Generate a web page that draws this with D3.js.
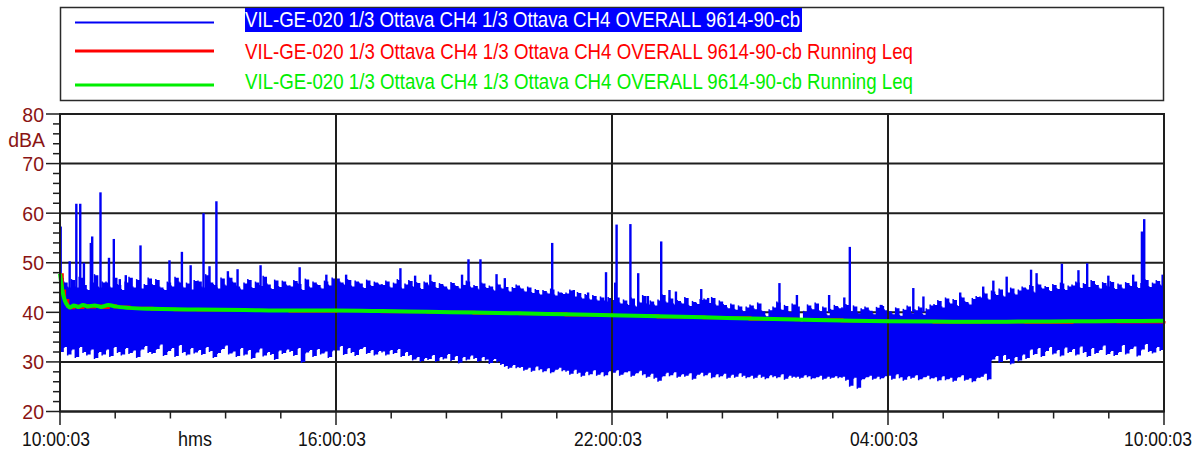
<!DOCTYPE html>
<html>
<head>
<meta charset="utf-8">
<script src="https://cdn.jsdelivr.net/npm/d3@7/dist/d3.min.js"></script>
<style>
  html, body { margin: 0; padding: 0; background: #ffffff; }
  svg { display: block; font-family: "Liberation Sans", Arial, Helvetica, sans-serif; }
</style>
</head>
<body>
<svg id="chart" width="1201" height="453"></svg>
<script>
// ---- Data -------------------------------------------------------------
// Time axis in hours since 10:00:03
const xTickHours = [0, 6, 12, 18, 24];
const xTickLabels = ["10:00:03", "16:00:03", "22:00:03", "04:00:03", "10:00:03"];
const yTicks = [20, 30, 40, 50, 60, 70, 80];

const seriesNames = [
  "VIL-GE-020 1/3 Ottava CH4 1/3 Ottava CH4 OVERALL 9614-90-cb",
  "VIL-GE-020 1/3 Ottava CH4 1/3 Ottava CH4 OVERALL 9614-90-cb Running Leq",
  "VIL-GE-020 1/3 Ottava CH4 1/3 Ottava CH4 OVERALL 9614-90-cb Running Leq"
];

// Level envelope of the measured signal, 5-minute bins (dBA): top and bottom of the trace
const binMinutes = 5;
const levelMax = [
  47, 46, 45, 46.5, 45, 47, 45.5, 44.5, 46, 47.5, 45, 46,
  46, 45, 47, 45.5, 44.5, 46, 47, 45, 46.5, 44.8, 45.5, 46.8,
  45.5, 46.5, 45, 44.5, 46, 45.2, 47, 46, 45, 45.8, 44.6, 46.3,
  46.2, 45, 47.5, 46, 45.5, 44.8, 46.8, 45.4, 47, 46, 45.2, 44.6,
  45.8, 46.5, 44.9, 46, 45.3, 47.2, 45.6, 44.7, 46.4, 45.1, 46.2, 45.4,
  45.2, 46.3, 45.7, 44.5, 46.6, 45, 46, 45.5, 44.8, 46.2, 45.4, 46.8,
  46.8, 46, 45.5, 46.5, 45.2, 46.2, 45.8, 44.9, 46.4, 45.3, 46, 45.6,
  45.5, 46.2, 45, 45.8, 46.5, 44.8, 45.6, 46.3, 45.1, 45.9, 44.7, 46,
  45.4, 46.1, 44.9, 45.7, 45.2, 44.6, 45.9, 45.3, 44.8, 45.5, 46.2, 45,
  45.3, 44.6, 45.8, 44.9, 45.2, 44.4, 45.6, 44.8, 45.1, 44.2, 44.9, 45.4,
  44.8, 44.2, 45, 43.9, 44.5, 43.6, 44.3, 43.8, 44.6, 43.4, 44, 43.7,
  43.8, 44.4, 43.2, 43.9, 42.8, 43.5, 42.6, 43.3, 42.4, 43, 42.2, 42.9,
  42.5, 43, 41.8, 42.4, 41.5, 42.8, 41.2, 42, 43.3, 41.6, 42.2, 41.4,
  42.4, 43.5, 42, 42.8, 41.6, 42.3, 41.8, 42.9, 41.3, 42.1, 41.7, 42.5,
  42.6, 41.9, 42.9, 41.4, 42.2, 41.5, 40.8, 41.6, 40.5, 41.2, 40.2, 41,
  41.4, 40.6, 41.8, 40.2, 39.2, 40.4, 41, 42, 40.5, 41.3, 40, 41.6,
  41.2, 38.2, 40.1, 41.4, 40.6, 41.8, 40.2, 41, 39.4, 40.5, 41.3, 40.8,
  40.8, 41.5, 40.2, 41.2, 39.8, 40.6, 41, 40.3, 39.6, 40.9, 41.3, 40.4,
  40.2, 39.6, 40.8, 39.3, 40.5, 41.2, 39.8, 40.4, 41, 39.5, 40.6, 41.4,
  41.5, 42.3, 41, 42.8, 41.8, 42.5, 41.3, 43, 42.1, 41.6, 42.7, 43.1,
  43, 43.8, 42.6, 44.2, 43.5, 44.6, 43.2, 44, 44.8, 43.6, 44.4, 45,
  44.6, 45.3, 44, 45.6, 44.8, 45.1, 44.3, 45.5, 44.7, 45.8, 44.5, 45.2,
  45.4, 46, 44.9, 45.7, 45.1, 46.3, 45.5, 44.8, 45.9, 45.2, 46.1, 44.7,
  45.6, 44.8, 45.9, 45.3, 46.2, 44.9, 45.7, 46.5, 45.1, 45.8, 46.3, 45.4
];
const levelMin = [
  32, 33, 31.5, 32.5, 31, 33, 32, 31.5, 32.5, 30.8, 32, 31.5,
  32.5, 31.2, 33, 32, 31.5, 32.8, 31.8, 32.3, 31, 32.5, 33.2, 32,
  31.8, 32.6, 33.5, 31.4, 32.2, 32.8, 31.2, 33.4, 32, 31.5, 32.8, 31.9,
  32.4, 31.6, 33, 32.2, 31, 31.8, 32.6, 33.3, 31.7, 32.1, 31.2, 32.8,
  31.5, 32.4, 30.8, 31.9, 32.7, 31.3, 32, 31.6, 30.6, 32.3, 31.8, 32.5,
  32.2, 31.4, 32.8, 30, 31.9, 32.4, 31.2, 32.6, 31.7, 32.1, 31, 32.3,
  32.3, 33.2, 31.6, 32.8, 32, 31.4, 32.6, 33, 31.8, 32.4, 31.5, 32.2,
  32.1, 31.5, 32.4, 31.8, 32.6, 31.2, 32, 31.4, 30.5, 31, 30.2, 30.8,
  30.6, 31.4, 30.2, 31, 30.7, 31.6, 30.4, 31.2, 29.9, 31, 30.5, 31.3,
  30.8, 30.2, 31, 30.5, 29.8, 30.6, 30.1, 29.6, 29.2, 28.8, 29.4, 28.9,
  29, 28.4, 28.8, 28.2, 29.1, 28.5, 28.1, 28.7, 27.9, 28.4, 28.8, 28.3,
  28.2, 27.6, 28.4, 27.8, 27.2, 28, 27.5, 28.3, 27.4, 27.9, 27.3, 28.1,
  27.8, 28.3, 27.4, 27.9, 28.1, 27.2, 27.7, 28.2, 27.5, 27, 27.6, 26.8,
  26.2, 27.1, 27.8, 27.3, 27.9, 27, 27.5, 27.2, 27.7, 26.6, 27.4, 27.8,
  27.3, 27.8, 26.9, 27.5, 27.1, 27.6, 26.8, 27.4, 27, 27.7, 27.2, 26.9,
  27.2, 26.8, 27.4, 27, 26.7, 27.3, 27.1, 26.9, 27.5, 26.6, 27.2, 27,
  27, 26.8, 27.3, 27.1, 26.7, 26.9, 27.2, 26.6, 27, 26.8, 27.1, 26.9,
  27, 26.4, 25.2, 26.8, 24.8, 26.5, 26.9, 27.2, 26.6, 27, 26.7, 27.1,
  27.2, 26.6, 27.5, 26.9, 26.4, 27.1, 26.8, 27.3, 26.5, 26.9, 27.2, 26.7,
  26.9, 26.3, 27.1, 26.5, 26.8, 26.2, 26.9, 27.3, 26.4, 26.7, 26.1, 26.8,
  27, 27.6, 26.5, 30.5, 31.2, 30, 31.4, 30.6, 29.7, 31, 30.3, 31.5,
  30.8, 32.5, 31.6, 32.8, 31.2, 32.2, 33, 31.7, 32.4, 31.3, 32.9, 32,
  32.6, 31.5, 33.1, 32, 31.2, 32.8, 31.8, 32.4, 33.3, 31.6, 32.2, 31.4,
  32, 33.4, 31.7, 32.6, 33.1, 31.3, 32.5, 33.6, 32.2, 31.9, 33, 32.4
];

// Isolated events above the trace: hour offset and peak level (dBA)
const peakHours = [
  0.015, 0.21, 0.355, 0.44, 0.52, 0.67, 0.7, 0.88, 1.065, 1.17, 1.3, 1.43, 1.75,
  2.38, 2.65, 2.84, 3.12, 3.25, 3.4, 3.65, 3.86, 4.36, 5.21, 5.79,
  6.22, 7.4, 7.72, 8.05, 8.74, 8.88, 9.14, 9.49, 9.67, 10.7, 11.17, 11.48, 11.87,
  12.07, 12.1, 12.4, 12.57, 12.78, 13.07, 13.25, 13.39, 13.94, 14.09, 15.64,
  16.02, 16.72, 17.05, 17.17, 17.86, 18.55, 18.77, 19.57, 20.07, 20.29, 20.58,
  21.11, 21.23, 21.78, 22.14, 22.33, 22.79, 23.33, 23.52, 23.57, 23.97
];
const peakLevels = [
  57.3, 50.3, 61.9, 61.9, 50, 54, 55.3, 64.2, 51, 54.8, 46.7, 47.5, 53.5,
  50.5, 52.2, 49.5, 60, 49.3, 62.4, 48.3, 48.7, 49.5, 49.1, 47.6,
  47.6, 48.9, 47.4, 47.6, 47.6, 50.7, 50.7, 47.7, 46.9, 54, 44.5, 44, 48.1,
  46, 57.7, 57.8, 47.9, 43.3, 54.3, 44.5, 44.2, 44.7, 42.9, 45.9,
  43.5, 43.5, 43, 53.2, 41.5, 44.9, 43.2, 44, 45.2, 46.4, 47.2,
  48.6, 47.9, 49.8, 48.5, 49.9, 47.4, 47.6, 56.3, 58.8, 47.6
];

// Running Leq (dBA)
const leqHours = [0, 0.05, 0.1, 0.17, 0.22, 0.3, 0.4, 0.5, 0.6, 0.75, 0.9, 1.05, 1.2, 1.5,
  2, 2.5, 3, 4, 5, 6, 7, 8, 9, 10, 11, 12, 13, 14, 15, 16, 17, 18, 19, 20, 21, 22, 23, 24];
const leqRed = [47.6, 44.3, 42.4, 41.2, 40.9, 41.3, 41.0, 41.4, 41.1, 41.3, 41.0, 41.4, 41.1, 40.8,
  40.6, 40.5, 40.45, 40.35, 40.2, 40.3, 40.1, 40.0, 39.8, 39.7, 39.45, 39.35, 39.05, 38.9,
  38.6, 38.5, 38.25, 38.15, 38.0, 38.05, 37.95, 38.1, 38.05, 38.25];
const leqGreen = [47.8, 44.5, 42.5, 41.3, 41.0, 41.4, 41.1, 41.5, 41.2, 41.4, 41.1, 41.5, 41.2, 40.9,
  40.7, 40.6, 40.55, 40.45, 40.35, 40.35, 40.25, 40.1, 39.95, 39.8, 39.6, 39.4, 39.2, 39.0,
  38.75, 38.55, 38.35, 38.2, 38.15, 38.1, 38.15, 38.2, 38.25, 38.3];

// ---- Layout -----------------------------------------------------------
const svg = d3.select("#chart");
const plot = { left: 60, right: 1164, top: 114, bottom: 411.5 };
const BLUE = "#0000f5", RED = "#ff0000", GREEN = "#00ee00", AXIS_RED = "#8a1414", GRID = "#1e1e1e";

const x = d3.scaleLinear().domain([0, 24]).range([plot.left, plot.right]);
const y = d3.scaleLinear().domain([20, 80]).range([plot.bottom, plot.top]);

// ---- Legend ------------------------------------------------------------
const legend = svg.append("g");
legend.append("rect")
  .attr("x", 60.5).attr("y", 7.5).attr("width", 1103).attr("height", 93)
  .attr("fill", "#fff").attr("stroke", "#2a2a2a").attr("stroke-width", 1.5);

const legendColors = [BLUE, RED, GREEN];
const legendLineY = [22.5, 51, 85];
const legendTextY = [27, 58.5, 88.5];
const legendTextW = [555, 668, 668];
legend.append("rect")
  .attr("x", 245).attr("y", 8).attr("width", 557).attr("height", 24)
  .attr("fill", "#0000ff");
seriesNames.forEach((name, i) => {
  legend.append("line")
    .attr("x1", 75).attr("x2", 214)
    .attr("y1", legendLineY[i]).attr("y2", legendLineY[i])
    .attr("stroke", legendColors[i]).attr("stroke-width", i === 0 ? 2 : 3);
  legend.append("text")
    .attr("x", 245).attr("y", legendTextY[i])
    .attr("font-size", 22)
    .attr("textLength", legendTextW[i]).attr("lengthAdjust", "spacingAndGlyphs")
    .attr("fill", i === 0 ? "#ffffff" : legendColors[i])
    .text(name);
});

// ---- Horizontal grid (behind the data) --------------------------------
svg.append("g").selectAll("line").data(yTicks).join("line")
  .attr("x1", plot.left).attr("x2", plot.right)
  .attr("y1", d => y(d)).attr("y2", d => y(d))
  .attr("stroke", GRID).attr("stroke-width", 2);

// ---- Measured level: envelope band and isolated peaks ------------------
const bins = levelMax.map((hi, i) => ({ t: i * binMinutes / 60, hi, lo: levelMin[i] }));
bins.push({ t: 24, hi: levelMax[levelMax.length - 1], lo: levelMin[levelMin.length - 1] });

const band = d3.area()
  .x(d => x(d.t))
  .y0(d => y(d.lo))
  .y1(d => y(d.hi))
  .curve(d3.curveStepAfter);
svg.append("path").datum(bins).attr("d", band).attr("fill", BLUE);

// vertical strokes at each bin edge roughen the trace outline
svg.append("g").selectAll("line").data(bins.slice(0, -1)).join("line")
  .attr("x1", d => x(d.t)).attr("x2", d => x(d.t))
  .attr("y1", d => y(d.lo) + 1).attr("y2", d => y(d.hi) - 1)
  .attr("stroke", BLUE).attr("stroke-width", 1.5);

const peaks = peakHours.map((h, i) => ({ h, v: peakLevels[i] }));
svg.append("g").selectAll("line").data(peaks).join("line")
  .attr("x1", d => x(d.h)).attr("x2", d => x(d.h))
  .attr("y1", y(40)).attr("y2", d => y(d.v))
  .attr("stroke", BLUE).attr("stroke-width", 2.4);

// ---- Vertical grid -----------------------------------------------------
svg.append("g").selectAll("line").data(xTickHours).join("line")
  .attr("x1", d => x(d)).attr("x2", d => x(d))
  .attr("y1", plot.top).attr("y2", plot.bottom)
  .attr("stroke", GRID).attr("stroke-width", 2);

// ---- Running Leq -------------------------------------------------------
const leqR = leqHours.map((h, i) => ({ h, v: leqRed[i] }));
const leqG = leqHours.map((h, i) => ({ h, v: leqGreen[i] }));
svg.append("path").datum(leqR)
  .attr("d", d3.line().x(d => x(d.h)).y(d => y(d.v)).curve(d3.curveStepAfter))
  .attr("fill", "none").attr("stroke", RED).attr("stroke-width", 3);
svg.append("path").datum(leqG)
  .attr("d", d3.line().x(d => x(d.h)).y(d => y(d.v)).curve(d3.curveMonotoneX))
  .attr("fill", "none").attr("stroke", GREEN).attr("stroke-width", 4);

// ---- Axes --------------------------------------------------------------
const yMinor = d3.range(20, 80.01, 2);
svg.append("g").selectAll("line").data(yMinor).join("line")
  .attr("x1", d => (d % 10 === 0 ? 46 : 53)).attr("x2", plot.left)
  .attr("y1", d => y(d)).attr("y2", d => y(d))
  .attr("stroke", GRID).attr("stroke-width", 1.5);

svg.append("g").selectAll("text").data(yTicks).join("text")
  .attr("x", 44).attr("y", d => y(d) + 7.5)
  .attr("text-anchor", "end").attr("font-size", 19.5)
  .attr("fill", AXIS_RED)
  .text(d => d);
svg.append("text")
  .attr("x", 45).attr("y", 146.5).attr("text-anchor", "end")
  .attr("font-size", 19.5).attr("fill", AXIS_RED).text("dBA");

const xMinor = d3.range(0, 24.001, 1.2);
svg.append("g").selectAll("line").data(xMinor).join("line")
  .attr("x1", d => x(d)).attr("x2", d => x(d))
  .attr("y1", plot.bottom)
  .attr("y2", d => (Math.abs(d / 6 - Math.round(d / 6)) < 1e-6 ? 425 : 418.5))
  .attr("stroke", GRID).attr("stroke-width", 1.5);

svg.append("g").selectAll("text").data(xTickHours).join("text")
  .attr("x", (d, i) => x(d) - (i === xTickHours.length - 1 ? 6 : 4)).attr("y", 446)
  .attr("text-anchor", "middle").attr("font-size", 20)
  .attr("textLength", 68).attr("lengthAdjust", "spacingAndGlyphs")
  .attr("fill", "#111")
  .text((d, i) => xTickLabels[i]);
svg.append("text")
  .attr("x", 195).attr("y", 446).attr("text-anchor", "middle")
  .attr("font-size", 20).attr("textLength", 34).attr("lengthAdjust", "spacingAndGlyphs")
  .attr("fill", "#111").text("hms");

// Plot frame
svg.append("rect")
  .attr("x", plot.left).attr("y", plot.top)
  .attr("width", plot.right - plot.left).attr("height", plot.bottom - plot.top)
  .attr("fill", "none").attr("stroke", GRID).attr("stroke-width", 2);
</script>
</body>
</html>
